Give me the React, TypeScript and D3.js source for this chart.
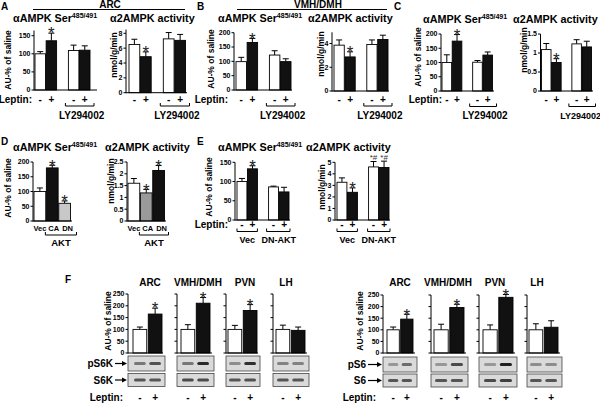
import React from "react";
import * as d3 from "d3";

const FONT = "'Liberation Sans', Arial, Helvetica, sans-serif";

// ---------- DATA ----------
const leptinSigns = ["-", "+", "-", "+"];
// A: ARC
const arcSerVal = [100, 136, 109, 110];
const arcSerErr = [6, 21, 15, 12];
const arcActVal = [6.5, 4.85, 7.25, 7.05];
const arcActErr = [0.7, 0.65, 0.85, 0.8];
// B: VMH/DMH
const vmhSerVal = [99, 166, 122, 99];
const vmhSerErr = [15, 14, 15, 10];
const vmhActVal = [3.86, 2.87, 3.92, 4.34];
const vmhActErr = [0.44, 0.43, 0.38, 0.36];
// C
const cSerVal = [100, 175, 101, 126];
const cSerErr = [27, 23, 6, 11];
const cActVal = [1.09, 0.75, 1.24, 1.16];
const cActErr = [0.16, 0.1, 0.11, 0.15];
// D
const aktGroups = ["Vec", "CA", "DN"];
const dSerVal = [100, 180, 60];
const dSerErr = [12, 9, 8];
const dActVal = [1.6, 1.19, 2.14];
const dActErr = [0.2, 0.15, 0.21];
// E
const eSerVal = [100, 133, 86, 73];
const eSerErr = [8, 8, 2, 12];
const eActVal = [3.27, 2.4, 4.6, 4.55];
const eActErr = [0.38, 0.38, 0.47, 0.55];
// F
const fRegions = ["ARC", "VMH/DMH", "PVN", "LH"];
const s6kSaline = [100, 100, 100, 100];
const s6kLeptin = [165, 211, 180, 96];
const s6kSalineErr = [10, 20, 17, 18];
const s6kLeptinErr = [25, 24, 25, 14];
const s6Saline = [100, 100, 100, 100];
const s6Leptin = [146, 196, 240, 111];
const s6SalineErr = [12, 24, 21, 26];
const s6LeptinErr = [21, 14, 12, 28];
const fStars = ["*", "*", "*", ""];
// blot band darkness (0..1)
const pS6kBandSal = [0.45, 0.45, 0.35, 0.4];
const pS6kBandLep = [0.62, 0.8, 0.78, 0.4];
const s6kBandSal = [0.6, 0.65, 0.6, 0.6];
const s6kBandLep = [0.6, 0.65, 0.62, 0.6];
const pS6BandSal = [0.3, 0.3, 0.3, 0.35];
const pS6BandLep = [0.5, 0.65, 0.85, 0.35];
const s6BandSal = [0.6, 0.6, 0.65, 0.6];
const s6BandLep = [0.6, 0.6, 0.7, 0.6];

const ticks150 = [0, 50, 100, 150];
const ticks200 = [0, 50, 100, 150, 200];
const ticks250 = [0, 50, 100, 150, 200, 250];

// ---------- HELPERS ----------
type Band = { slots: string[]; range: [number, number]; pad?: number };
function bandScale(b: Band) {
  return d3.scaleBand<string>().domain(b.slots).range(b.range).paddingInner(b.pad ?? 0.06).paddingOuter(0);
}
function centers(b: Band) {
  const x = bandScale(b);
  return b.slots.filter((s) => s[0] !== "_").map((k) => (x(k) as number) + x.bandwidth() / 2);
}
function edges(b: Band) {
  const x = bandScale(b);
  return b.slots.filter((s) => s[0] !== "_").map((k) => [x(k) as number, (x(k) as number) + x.bandwidth()]);
}

type ChartProps = {
  ax: number; end: number; base: number; top: number; atop?: number;
  ticks: number[]; labels?: boolean; band: Band;
  vals: number[]; errs: number[]; fills: string[]; marks?: string[];
};
function Chart(p: ChartProps) {
  const y = d3.scaleLinear().domain([0, p.ticks[p.ticks.length - 1]]).range([p.base, p.top]);
  const x = bandScale(p.band);
  const bw = x.bandwidth();
  const keys = p.band.slots.filter((s) => s[0] !== "_");
  const showLabels = p.labels !== false;
  return (
    <g>
      {keys.map((k, i) => {
        const v = p.vals[i];
        const e = p.errs[i];
        const x0 = x(k) as number;
        const cx = x0 + bw / 2;
        const yt = y(v + e);
        const m = p.marks ? p.marks[i] : "";
        return (
          <g key={k}>
            <line x1={cx} x2={cx} y1={y(v)} y2={yt} stroke="#000" strokeWidth={1} />
            <line x1={cx - 3} x2={cx + 3} y1={yt} y2={yt} stroke="#000" strokeWidth={1} />
            <rect x={x0} y={y(v)} width={bw} height={p.base - y(v)} fill={p.fills[i]} stroke="#000" strokeWidth={0.9} />
            {m === "*" ? (
              <text x={cx} y={yt + 6.3} fontSize={17} textAnchor="middle" fill="#222">*</text>
            ) : m ? (
              <text x={cx} y={yt - 1} fontSize={8} textAnchor="middle" fill="#333">{m}</text>
            ) : null}
          </g>
        );
      })}
      <line x1={p.ax} x2={p.ax} y1={p.base + 0.5} y2={p.atop ?? p.top} stroke="#000" strokeWidth={1} />
      <line x1={p.ax} x2={p.end} y1={p.base} y2={p.base} stroke="#000" strokeWidth={1} />
      {p.ticks.map((t) => (
        <g key={t}>
          <line x1={p.ax - 2.5} x2={p.ax} y1={y(t)} y2={y(t)} stroke="#000" strokeWidth={1} />
          {showLabels && (
            <text x={p.ax - 3.5} y={y(t)} dy="0.35em" textAnchor="end" fontSize={7} fontWeight="bold">{String(t)}</text>
          )}
        </g>
      ))}
    </g>
  );
}

function Bracket({ x1, x2, y }: { x1: number; x2: number; y: number }) {
  return <path d={`M${x1},${y - 3}V${y}H${x2}V${y - 3}`} fill="none" stroke="#000" strokeWidth={1} />;
}

function Signs({ band, y, signs }: { band: Band; y: number; signs: string[] }) {
  const cs = centers(band);
  return (
    <g>
      {cs.map((c, i) => (
        <text key={i} x={c} y={y} textAnchor="middle" fontSize={10} fontWeight="bold">{signs[i]}</text>
      ))}
    </g>
  );
}

function YLabel({ x, y, text }: { x: number; y: number; text: string }) {
  return (
    <text transform={`translate(${x},${y}) rotate(-90)`} textAnchor="middle" fontSize={8.5} fontWeight="bold">{text}</text>
  );
}

function SerTitle({ x, y }: { x: number; y: number }) {
  return (
    <text x={x} y={y} fontSize={10.8} fontWeight="bold">
      αAMPK Ser<tspan fontSize={7} dy={-4}>485/491</tspan>
    </text>
  );
}
function ActTitle({ x, y }: { x: number; y: number }) {
  return <text x={x} y={y} fontSize={10.8} fontWeight="bold">α2AMPK activity</text>;
}

function LYGroup({ band, y, fs = 10, dx = 2 }: { band: Band; y: number; fs?: number; dx?: number }) {
  const e = edges(band);
  const x1 = e[2][0] - 3;
  const x2 = e[3][1] + 4;
  return (
    <g>
      <Bracket x1={x1} x2={x2} y={y} />
      <text x={(x1 + x2) / 2 + dx} y={y + 12.5} textAnchor="middle" fontSize={fs} fontWeight="bold">LY294002</text>
    </g>
  );
}

function Blot({ x, w, y, h, band, dark }: { x: number; w: number; y: number; h: number; band: Band; dark: number[] }) {
  const e = edges(band);
  return (
    <g>
      <rect x={x} y={y} width={w} height={h} fill="#dadada" stroke="#444" strokeWidth={0.8} />
      {e.map(([a, b], i) => (
        <rect key={i} x={a + 1} y={y + h / 2 - 1.6} width={b - a - 2} height={3.2} rx={1.5}
          fill="#000" opacity={dark[i]} filter="url(#blur)" />
      ))}
    </g>
  );
}

function Arrow({ x1, x2, y }: { x1: number; x2: number; y: number }) {
  return (
    <g>
      <line x1={x1} x2={x2 - 4} y1={y} y2={y} stroke="#000" strokeWidth={1.2} />
      <path d={`M${x2},${y}L${x2 - 5},${y - 2.6}L${x2 - 5},${y + 2.6}Z`} fill="#000" />
    </g>
  );
}

const W = "#fff";
const K = "#111";
const fill4 = [W, K, W, K];
const slots4 = ["a", "b", "_g", "c", "d"];

// F layout
const fLeft = [
  { ax: 128, end: 163, range: [133, 162] as [number, number], cx: 150 },
  { ax: 177, end: 212, range: [181, 210] as [number, number], cx: 198 },
  { ax: 226, end: 258, range: [228, 257] as [number, number], cx: 245 },
  { ax: 273, end: 307, range: [276, 305] as [number, number], cx: 286 },
];
const fRight = [
  { ax: 383, end: 415, range: [387, 413] as [number, number], cx: 400 },
  { ax: 431, end: 466, range: [434, 464] as [number, number], cx: 448 },
  { ax: 479, end: 515, range: [483, 513] as [number, number], cx: 495 },
  { ax: 527, end: 560, range: [529, 558] as [number, number], cx: 537 },
];

function FPanel({ layout, top, sal, lep, salE, lepE, bandSal, bandLep, bandTSal, bandTLep, pLabel, tLabel, labelX, row1, row2 }: any) {
  return (
    <g>
      {layout.map((L: any, i: number) => {
        const band: Band = { slots: ["s", "l"], range: L.range, pad: 0.1 };
        return (
          <g key={i}>
            <text x={L.cx} y={285.5} textAnchor="middle" fontSize={10} fontWeight="bold">{fRegions[i]}</text>
            <Chart ax={L.ax} end={L.end} base={353} top={top} ticks={ticks250} labels={i === 0} band={band}
              vals={[sal[i], lep[i]]} errs={[salE[i], lepE[i]]} fills={[W, K]} marks={["", fStars[i]]} />
            <Blot x={L.ax} w={L.end - L.ax + 2} y={row1[0]} h={row1[1]} band={band} dark={[bandSal[i], bandLep[i]]} />
            <Blot x={L.ax} w={L.end - L.ax + 2} y={row2[0]} h={row2[1]} band={band} dark={[bandTSal[i], bandTLep[i]]} />
            <Signs band={band} y={400.5} signs={["-", "+"]} />
          </g>
        );
      })}
      <text x={labelX} y={row1[0] + row1[1] / 2 + 3.6} textAnchor="end" fontSize={10} fontWeight="bold">{pLabel}</text>
      <Arrow x1={labelX + 2} x2={layout[0].ax - 1} y={row1[0] + row1[1] / 2} />
      <text x={labelX} y={row2[0] + row2[1] / 2 + 3.6} textAnchor="end" fontSize={10} fontWeight="bold">{tLabel}</text>
      <Arrow x1={labelX + 2} x2={layout[0].ax - 1} y={row2[0] + row2[1] / 2} />
      <text x={labelX + 10} y={400.5} textAnchor="end" fontSize={10} fontWeight="bold">Leptin:</text>
    </g>
  );
}

export default function App() {
  const bA1: Band = { slots: slots4, range: [35, 90] };
  const bA2: Band = { slots: slots4, range: [129, 185.5] };
  const bB1: Band = { slots: slots4, range: [236, 291] };
  const bB2: Band = { slots: slots4, range: [334, 388] };
  const bC1: Band = { slots: slots4, range: [442, 492.5] };
  const bC2: Band = { slots: slots4, range: [541.5, 591.5] };
  const bD1: Band = { slots: aktGroups, range: [34, 70.5], pad: 0.05 };
  const bD2: Band = { slots: aktGroups, range: [128, 164.5], pad: 0.05 };
  const bE1: Band = { slots: slots4, range: [237, 289] };
  const bE2: Band = { slots: slots4, range: [337, 389] };

  const eE1 = edges(bE1);
  const eE2 = edges(bE2);
  const eD1 = edges(bD1);
  const eD2 = edges(bD2);
  const aktDx = [0, 1.5, 3];

  return (
    <svg width={600} height={404} viewBox="0 0 600 404"
      style={{ position: "absolute", left: 0, top: 0, background: "#fff", fontFamily: FONT }}>
      <defs>
        <filter id="blur" x="-20%" y="-100%" width="140%" height="300%">
          <feGaussianBlur stdDeviation="0.7" />
        </filter>
      </defs>
      <rect x={0} y={0} width={600} height={404} fill="#fff" />

      {/* panel letters */}
      <text x={1} y={10} fontSize={10} fontWeight="bold">A</text>
      <text x={197} y={10} fontSize={10} fontWeight="bold">B</text>
      <text x={394} y={10} fontSize={10} fontWeight="bold">C</text>
      <text x={1} y={145} fontSize={10} fontWeight="bold">D</text>
      <text x={197} y={145} fontSize={10} fontWeight="bold">E</text>
      <text x={65} y={283} fontSize={10} fontWeight="bold">F</text>

      {/* region headers */}
      <text x={110} y={8.4} textAnchor="middle" fontSize={10} fontWeight="bold">ARC</text>
      <line x1={33} x2={185} y1={9.5} y2={9.5} stroke="#000" strokeWidth={1} />
      <text x={318} y={8.4} textAnchor="middle" fontSize={10} fontWeight="bold">VMH/DMH</text>
      <line x1={237} x2={387} y1={9.5} y2={9.5} stroke="#000" strokeWidth={1} />

      {/* ===== A ===== */}
      <SerTitle x={13} y={21.7} />
      <ActTitle x={110} y={21.7} />
      <YLabel x={10.5} y={60} text="AU-% of saline" />
      <YLabel x={116.5} y={55} text="nmol/g/min" />
      <Chart ax={34} end={97} base={90} top={35.7} atop={30.5} ticks={ticks150} band={bA1}
        vals={arcSerVal} errs={arcSerErr} fills={fill4} marks={["", "*", "", ""]} />
      <Chart ax={126} end={187} base={92.7} top={33.3} atop={29.5} ticks={[0, 2, 4, 6, 8]} band={bA2}
        vals={arcActVal} errs={arcActErr} fills={fill4} marks={["", "*", "", ""]} />
      <text x={32} y={102.5} textAnchor="end" fontSize={10} fontWeight="bold">Leptin:</text>
      <Signs band={bA1} y={102.5} signs={leptinSigns} />
      <Signs band={bA2} y={102.5} signs={leptinSigns} />
      <LYGroup band={bA1} y={106} />
      <LYGroup band={bA2} y={106} />

      {/* ===== B ===== */}
      <SerTitle x={218} y={21.7} />
      <ActTitle x={308} y={21.7} />
      <YLabel x={213.5} y={59} text="AU-% of saline" />
      <YLabel x={323.5} y={54} text="nmol/g/min" />
      <Chart ax={234} end={292} base={90} top={32.7} ticks={ticks200} band={bB1}
        vals={vmhSerVal} errs={vmhSerErr} fills={fill4} marks={["", "*", "", ""]} />
      <Chart ax={332} end={389} base={91} top={43.5} atop={32.3} ticks={[0, 2, 4]} band={bB2}
        vals={vmhActVal} errs={vmhActErr} fills={fill4} marks={["", "*", "", ""]} />
      <text x={228} y={102.5} textAnchor="end" fontSize={10} fontWeight="bold">Leptin:</text>
      <Signs band={bB1} y={102.5} signs={leptinSigns} />
      <Signs band={bB2} y={102.5} signs={leptinSigns} />
      <LYGroup band={bB1} y={106} />
      <LYGroup band={bB2} y={106} />

      {/* ===== C ===== */}
      <SerTitle x={423} y={22.5} />
      <ActTitle x={513} y={22.5} />
      <YLabel x={420.5} y={57} text="AU-% of saline" />
      <YLabel x={527} y={50} text="nmol/g/min" />
      <Chart ax={441} end={494} base={91} top={34} ticks={ticks200} band={bC1}
        vals={cSerVal} errs={cSerErr} fills={fill4} marks={["", "*", "", ""]} />
      <Chart ax={540.5} end={593} base={91} top={34} ticks={[0, 0.5, 1, 1.5]} band={bC2}
        vals={cActVal} errs={cActErr} fills={fill4} marks={["", "*", "", ""]} />
      <text x={442} y={102.5} textAnchor="end" fontSize={10} fontWeight="bold">Leptin:</text>
      <Signs band={bC1} y={102.5} signs={leptinSigns} />
      <Signs band={bC2} y={102.5} signs={leptinSigns} />
      <LYGroup band={bC1} y={106.5} />
      <LYGroup band={bC2} y={106.5} fs={9} dx={-1.5} />

      {/* ===== D ===== */}
      <SerTitle x={13} y={151} />
      <ActTitle x={105} y={151} />
      <YLabel x={10.5} y={188} text="AU-% of saline" />
      <YLabel x={114} y={181} text="nmol/g/min" />
      <Chart ax={33} end={72} base={221} top={162} ticks={ticks200} band={bD1}
        vals={dSerVal} errs={dSerErr} fills={[W, K, "#c8c8c8"]} marks={["", "*", "*"]} />
      <Chart ax={127} end={166} base={221} top={162} ticks={[0, 0.5, 1, 1.5, 2, 2.5]} band={bD2}
        vals={dActVal} errs={dActErr} fills={[W, "#9a9a9a", K]} marks={["", "*", "*"]} />
      {centers(bD1).map((c, i) => (
        <text key={"d1" + i} x={c + aktDx[i]} y={231} textAnchor="middle" fontSize={7.5} fontWeight="bold">{aktGroups[i]}</text>
      ))}
      {centers(bD2).map((c, i) => (
        <text key={"d2" + i} x={c + aktDx[i]} y={231} textAnchor="middle" fontSize={7.5} fontWeight="bold">{aktGroups[i]}</text>
      ))}
      <Bracket x1={eD1[1][0] - 1} x2={eD1[2][1] + 6} y={235} />
      <text x={(eD1[1][0] + eD1[2][1] + 5) / 2} y={246} textAnchor="middle" fontSize={9.5} fontWeight="bold">AKT</text>
      <Bracket x1={eD2[1][0] - 1} x2={eD2[2][1] + 4} y={235} />
      <text x={(eD2[1][0] + eD2[2][1] + 3) / 2} y={246} textAnchor="middle" fontSize={9.5} fontWeight="bold">AKT</text>

      {/* ===== E ===== */}
      <SerTitle x={218} y={151} />
      <ActTitle x={306} y={151} />
      <YLabel x={211.5} y={187} text="AU-% of saline" />
      <YLabel x={325} y={187} text="nmol/g/min" />
      <Chart ax={235} end={290} base={220} top={162.3} ticks={ticks150} band={bE1}
        vals={eSerVal} errs={eSerErr} fills={fill4} marks={["", "*", "", ""]} />
      <Chart ax={335} end={390} base={220} top={162.3} ticks={[0, 1, 2, 3, 4, 5]} band={bE2}
        vals={eActVal} errs={eActErr} fills={fill4} marks={["", "*", "*#", "*#"]} />
      <text x={228} y={227.5} textAnchor="end" fontSize={10} fontWeight="bold">Leptin:</text>
      <Signs band={bE1} y={227.5} signs={leptinSigns} />
      <Signs band={bE2} y={227.5} signs={leptinSigns} />
      <Bracket x1={eE1[0][0]} x2={eE1[1][1]} y={231.5} />
      <Bracket x1={eE1[2][0] - 2} x2={eE1[3][1] + 1} y={231.5} />
      <text x={(eE1[0][0] + eE1[1][1]) / 2} y={243} textAnchor="middle" fontSize={9} fontWeight="bold">Vec</text>
      <text x={(eE1[2][0] + eE1[3][1]) / 2} y={243} textAnchor="middle" fontSize={9} fontWeight="bold">DN-AKT</text>
      <Bracket x1={eE2[0][0]} x2={eE2[1][1]} y={231.5} />
      <Bracket x1={eE2[2][0] - 1} x2={eE2[3][1] + 1} y={231.5} />
      <text x={(eE2[0][0] + eE2[1][1]) / 2} y={243} textAnchor="middle" fontSize={9} fontWeight="bold">Vec</text>
      <text x={(eE2[2][0] + eE2[3][1]) / 2} y={243} textAnchor="middle" fontSize={9} fontWeight="bold">DN-AKT</text>

      {/* ===== F ===== */}
      <YLabel x={111} y={321} text="AU-% of saline" />
      <YLabel x={363} y={321} text="AU-% of saline" />
      <FPanel layout={fLeft} top={294} sal={s6kSaline} lep={s6kLeptin} salE={s6kSalineErr} lepE={s6kLeptinErr}
        bandSal={pS6kBandSal} bandLep={pS6kBandLep} bandTSal={s6kBandSal} bandTLep={s6kBandLep}
        pLabel="pS6K" tLabel="S6K" labelX={113} row1={[356, 15]} row2={[373.5, 13]} />
      <FPanel layout={fRight} top={295} sal={s6Saline} lep={s6Leptin} salE={s6SalineErr} lepE={s6LeptinErr}
        bandSal={pS6BandSal} bandLep={pS6BandLep} bandTSal={s6BandSal} bandTLep={s6BandLep}
        pLabel="pS6" tLabel="S6" labelX={366} row1={[357, 15]} row2={[374, 13]} />
    </svg>
  );
}
